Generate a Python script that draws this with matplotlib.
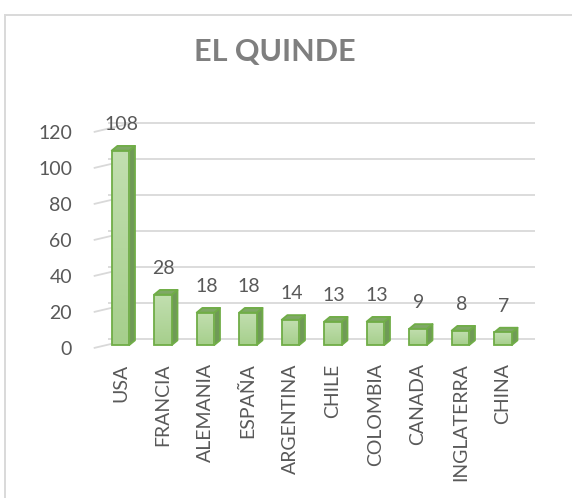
import matplotlib
matplotlib.use("Agg")
import matplotlib.pyplot as plt
import numpy as np
from matplotlib.patches import Polygon, Rectangle
from matplotlib.colors import LinearSegmentedColormap
import matplotlib.transforms as mtransforms

categories = ["USA", "FRANCIA", "ALEMANIA", "ESPAÑA", "ARGENTINA", "CHILE",
              "COLOMBIA", "CANADA", "INGLATERRA", "CHINA"]
values = [108, 28, 18, 18, 14, 13, 13, 9, 8, 7]
yticks = [0, 20, 40, 60, 80, 100, 120]
title = "EL QUINDE"

plt.rcParams['font.family'] = ['Lato', 'DejaVu Sans']

W, H = 572, 498
fig = plt.figure(figsize=(W / 100, H / 100), dpi=100)

# figure border (only left and top visible)
fig.patches.append(Rectangle((5 / W, -0.2), 2, 1.2 - 15 / H, transform=fig.transFigure,
                             fill=False, edgecolor="#d9d9d9", linewidth=1.4))

# axes: category i -> px 120.5 + 42.5 i ; value v -> px 345 - 1.8 v
xl, xr = -0.7, 9.9
yb, yt = -4, 130
left_px = 120.5 + 42.5 * xl
right_px = 120.5 + 42.5 * xr
bot_px = 345 - 1.8 * yb
top_px = 345 - 1.8 * yt
ax = fig.add_axes([left_px / W, (H - bot_px) / H, (right_px - left_px) / W, (bot_px - top_px) / H])
for s in ax.spines.values():
    s.set_visible(False)

grid_c = "#d9d9d9"
wall_dx, wall_dy = 0.32, 3.6
front_dx, front_dy = -0.63, -1.7
for t in yticks:
    ax.plot([front_dx, wall_dx], [t + front_dy, t + wall_dy], color=grid_c, lw=1.3,
            zorder=1, clip_on=False, solid_capstyle="butt")
    ax.plot([wall_dx - 0.62, 9.75], [t + wall_dy, t + wall_dy], color=grid_c, lw=1.3,
            zorder=1, clip_on=False, solid_capstyle="butt")

bw = 0.414
bdx, bdy = 0.134, 2.6
side_c = "#6f9a57"
top_c = "#7fa866"
edge_c = "#70ad47"
grad = LinearSegmentedColormap.from_list("g", ["#a6cf8c", "#c2dfb0"])
xs = list(range(len(categories)))
bars = ax.bar(xs, values, width=bw, color="none", edgecolor=edge_c, linewidth=1.3, zorder=5)
for b, i, v in zip(bars, xs, values):
    r = i + bw / 2
    l = i - bw / 2
    im = ax.imshow(np.linspace(0, 1, 64).reshape(-1, 1), cmap=grad, origin="lower",
                   extent=[l, r, 0, v], aspect="auto", zorder=4, interpolation="bilinear")
    im.set_clip_path(b)
    side = Polygon([(r, 0), (r + bdx, bdy), (r + bdx, v + bdy), (r, v)], closed=True,
                   facecolor=side_c, edgecolor=edge_c, linewidth=1.3, zorder=3, joinstyle="round")
    top = Polygon([(l, v), (l + bdx, v + bdy), (r + bdx, v + bdy), (r, v)], closed=True,
                  facecolor=top_c, edgecolor=edge_c, linewidth=1.3, zorder=3, joinstyle="round")
    ax.add_patch(side)
    ax.add_patch(top)
    ax.annotate(str(v), (i + 0.02, v), xytext=(0, 12.5), textcoords="offset points",
                ha="center", va="bottom", fontsize=14, color="#595959", zorder=6)

ax.set_xlim(xl, xr)
ax.set_ylim(yb, yt)
ax.set_xticks(xs, categories, rotation=90)
ax.set_yticks(yticks, [str(t) for t in yticks])
ax.tick_params(axis="both", length=0, colors="#595959", labelsize=14)
ax.tick_params(axis="x", pad=8)
ax.tick_params(axis="y", pad=13.5)
off = mtransforms.ScaledTranslation(0, -3 / 100, fig.dpi_scale_trans)
for lab in ax.get_yticklabels():
    lab.set_transform(lab.get_transform() + off)

fig.text(275 / W, 1 - 52 / H, title, ha="center", va="center", fontsize=22,
         fontweight="bold", color="#7f7f7f")

fig.savefig("out.png", dpi=100)
